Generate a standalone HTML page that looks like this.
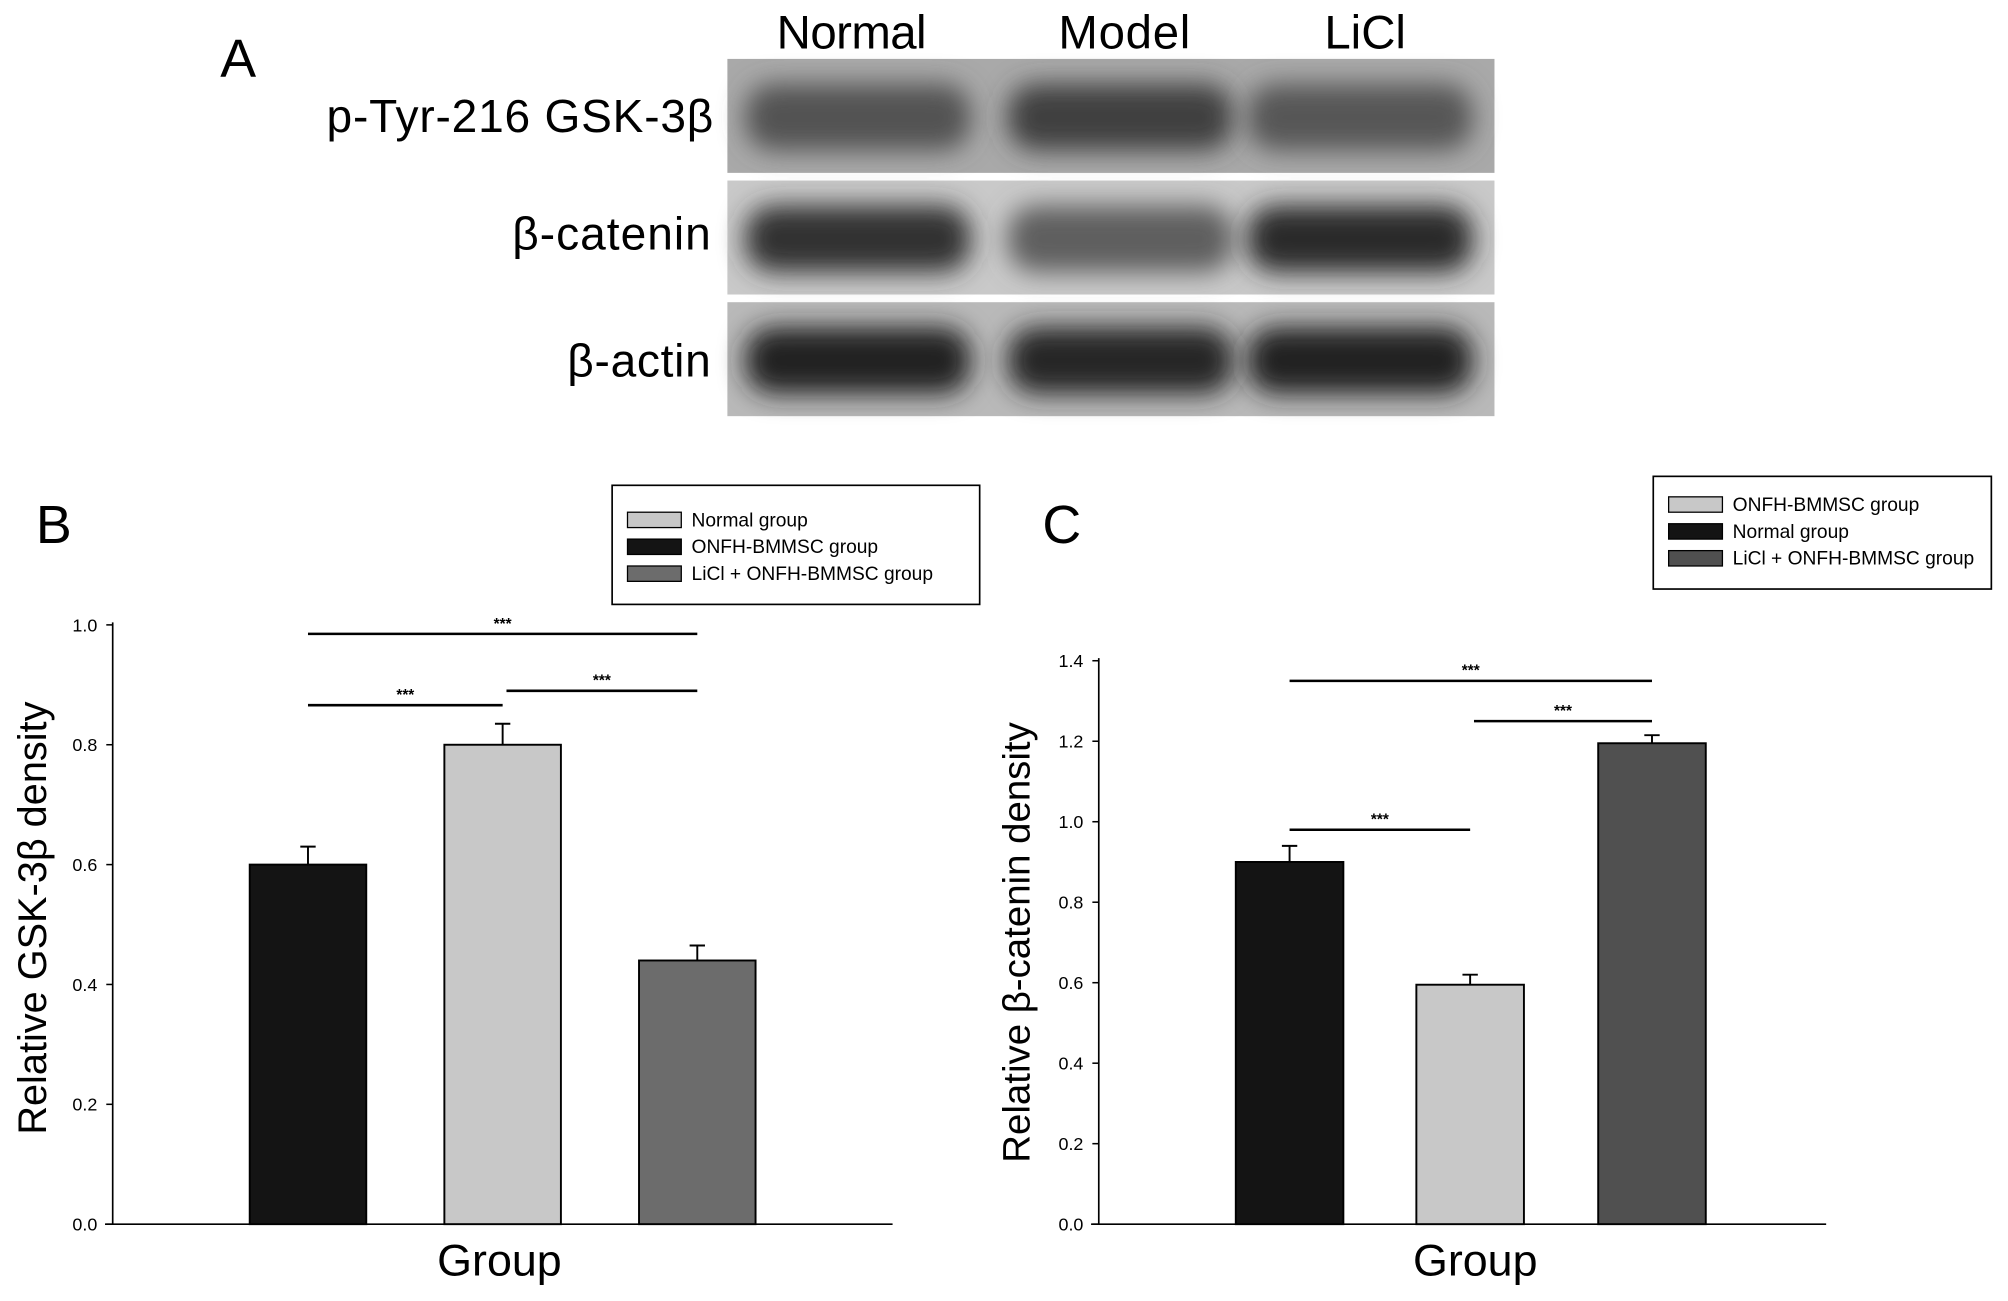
<!DOCTYPE html>
<html><head><meta charset="utf-8">
<style>
html,body{margin:0;padding:0;background:#fff;}
svg{display:block;font-family:"Liberation Sans",Arial,sans-serif;}
</style></head>
<body>
<svg id="fig" width="2008" height="1301" viewBox="0 0 1568 1016" preserveAspectRatio="none">
<defs>
<filter id="blur" x="-30%" y="-60%" width="160%" height="220%"><feGaussianBlur stdDeviation="10"/></filter>
</defs>
<g id="panelA">
<text x="172" y="60" font-size="42">A</text>
<text x="665" y="38" font-size="37" text-anchor="middle" textLength="117">Normal</text>
<text x="878" y="38" font-size="37" text-anchor="middle" textLength="103">Model</text>
<text x="1066" y="38" font-size="37" text-anchor="middle">LiCl</text>
<text x="557" y="103" font-size="36" text-anchor="end" textLength="302">p-Tyr-216 GSK-3β</text>
<text x="555" y="195" font-size="36" text-anchor="end" textLength="155">β-catenin</text>
<text x="555" y="294" font-size="36" text-anchor="end" textLength="112">β-actin</text>
</g>
<g id="panelB"></g>
<g id="panelC"></g>
</svg>
<script>
const NS='http://www.w3.org/2000/svg';
function mk(parent,tag,attrs,text){const e=document.createElementNS(NS,tag);for(const k in attrs)e.setAttribute(k,attrs[k]);if(text!==undefined)e.textContent=text;parent.appendChild(e);return e;}

// ---- Western blot (panel A) ----
const blotRows=[{y:46,h:89,bg:'#a9a9a9'},{y:141,h:89,bg:'#c9c9c9'},{y:236,h:89,bg:'#b9b9b9'}];
const bandDark=[[0.62,0.72,0.6],[0.8,0.55,0.82],[0.88,0.84,0.88]];
const laneX=[670,875,1062];
const A=document.getElementById('panelA');
blotRows.forEach((r,ri)=>{
  const g=mk(A,'g',{});
  
  
  mk(g,'rect',{x:568,y:r.y,width:599,height:r.h,fill:r.bg});
  laneX.forEach((lx,li)=>{
    const d=bandDark[ri][li];const c=Math.round(200-d*190);
    const b=mk(g,'rect',{x:lx-88,y:r.y+r.h/2-25,width:176,height:52,rx:22,fill:'rgb('+c+','+c+','+c+')',filter:'url(#blur)'});
    
    
  });
});

// ---- Panel B data ----
const bCategories=['Normal group','ONFH-BMMSC group','LiCl + ONFH-BMMSC group'];
const bValues=[0.6,0.8,0.44];
const bErrors=[0.03,0.035,0.025];
const bTicks=['0.0','0.2','0.4','0.6','0.8','1.0'];
const bSig=[[0,2,0.985],[0,1,0.866],[1,2,0.89]];
// ---- Panel C data ----
const cCategories=['Normal group','ONFH-BMMSC group','LiCl + ONFH-BMMSC group'];
const cValues=[0.9,0.595,1.195];
const cErrors=[0.04,0.025,0.02];
const cTicks=['0.0','0.2','0.4','0.6','0.8','1.0','1.2','1.4'];
const cSig=[[0,2,1.35],[0,1,0.98],[1,2,1.25]];

function drawChart(cfg){
  const G=document.getElementById(cfg.id);
  const y=v=>cfg.y0-(v/cfg.max)*(cfg.y0-cfg.yTop);
  const ax=mk(G,'line',{x1:cfg.ax,y1:cfg.yTop-2,x2:cfg.ax,y2:cfg.y0,stroke:'#000','stroke-width':1.3});
  
  
  const xa=mk(G,'line',{x1:cfg.ax-6,y1:cfg.y0,x2:cfg.xEnd,y2:cfg.y0,stroke:'#000','stroke-width':1.3});
  
  
  cfg.ticks.forEach(t=>{
    const v=parseFloat(t);
    mk(G,'line',{x1:cfg.ax-5,y1:y(v),x2:cfg.ax,y2:y(v),stroke:'#000','stroke-width':1.2});
    const tl=mk(G,'text',{x:cfg.ax-12,y:y(v)+5,'font-size':14,'text-anchor':'end'},t);
    
    
  });
  cfg.values.forEach((v,i)=>{
    const x=cfg.barX[i];
    const top=y(v+cfg.errors[i]);
    const e=mk(G,'path',{d:'M'+(x+cfg.bw/2)+' '+y(v)+'V'+top+'M'+(x+cfg.bw/2-6)+' '+top+'H'+(x+cfg.bw/2+6),stroke:'#000','stroke-width':1.5,fill:'none'});
    
    
    const r=mk(G,'rect',{x:x,y:y(v),width:cfg.bw,height:cfg.y0-y(v),fill:cfg.colors[i],stroke:'#000','stroke-width':1.5});
    
    
  });
  cfg.sig.forEach(s=>{
    const x1=cfg.barX[s[0]]+cfg.bw/2+(s[0]>0?3:0), x2=cfg.barX[s[1]]+cfg.bw/2;
    const l=mk(G,'line',{x1:x1,y1:y(s[2]),x2:x2,y2:y(s[2]),stroke:'#000','stroke-width':2});
    
    
    const st=mk(G,'text',{x:(x1+x2)/2,y:y(s[2])-4,'font-size':12,'text-anchor':'middle','font-weight':'bold'},'***');
    
    
  });
  const yt=mk(G,'text',{x:0,y:0,'font-size':cfg.ytSize,'text-anchor':'middle',transform:'translate('+cfg.ytX+','+cfg.ytY+') rotate(-90)'},cfg.ytitle);
  
  
  const xt=mk(G,'text',{x:cfg.xtX,y:cfg.y0+40,'font-size':35,'text-anchor':'middle'},'Group');
  
  
  const pl=mk(G,'text',{x:cfg.plX,y:cfg.plY,'font-size':42},cfg.label);
  
  
  const L=cfg.legend;
  const lg=mk(G,'g',{});
  
  
  mk(lg,'rect',{x:L.x,y:L.y,width:L.w,height:L.h,fill:'#fff',stroke:'#000','stroke-width':1.3});
  L.order.forEach((idx,k)=>{
    const yy=L.y+L.first+k*L.step;
    const e=mk(lg,'g',{});
    
    
    mk(e,'rect',{x:L.x+12,y:yy-6,width:L.sw,height:12,fill:cfg.colors[idx],stroke:'#000','stroke-width':1});
    mk(e,'text',{x:L.x+L.sw+20,y:yy+5,'font-size':15},cfg.cats[idx]);
  });
}

drawChart({id:'panelB',ax:88,y0:956,yTop:488,max:1.0,xEnd:697,bw:91,barX:[195,347,499],
  values:bValues,errors:bErrors,ticks:bTicks,sig:bSig,cats:['ONFH-BMMSC group','Normal group','LiCl + ONFH-BMMSC group'],
  colors:['#141414','#c8c8c8','#6c6c6c'],ytitle:'Relative GSK-3β density',ytSize:31,ytX:36,ytY:717,xtX:390,label:'B',plX:28,plY:424,
  legend:{x:478,y:379,w:287,h:93,first:27,step:21,sw:42,order:[1,0,2]}});
drawChart({id:'panelC',ax:858,y0:956,yTop:516,max:1.4,xEnd:1426,bw:84,barX:[965,1106,1248],
  values:cValues,errors:cErrors,ticks:cTicks,sig:cSig,cats:['Normal group','ONFH-BMMSC group','LiCl + ONFH-BMMSC group'],
  colors:['#141414','#c8c8c8','#505050'],ytitle:'Relative β-catenin density',ytSize:30,ytX:804,ytY:736,xtX:1152,label:'C',plX:814,plY:424,
  legend:{x:1291,y:372,w:264,h:88,first:22,step:21,sw:42,order:[1,0,2]}});
</script>
</body></html>
